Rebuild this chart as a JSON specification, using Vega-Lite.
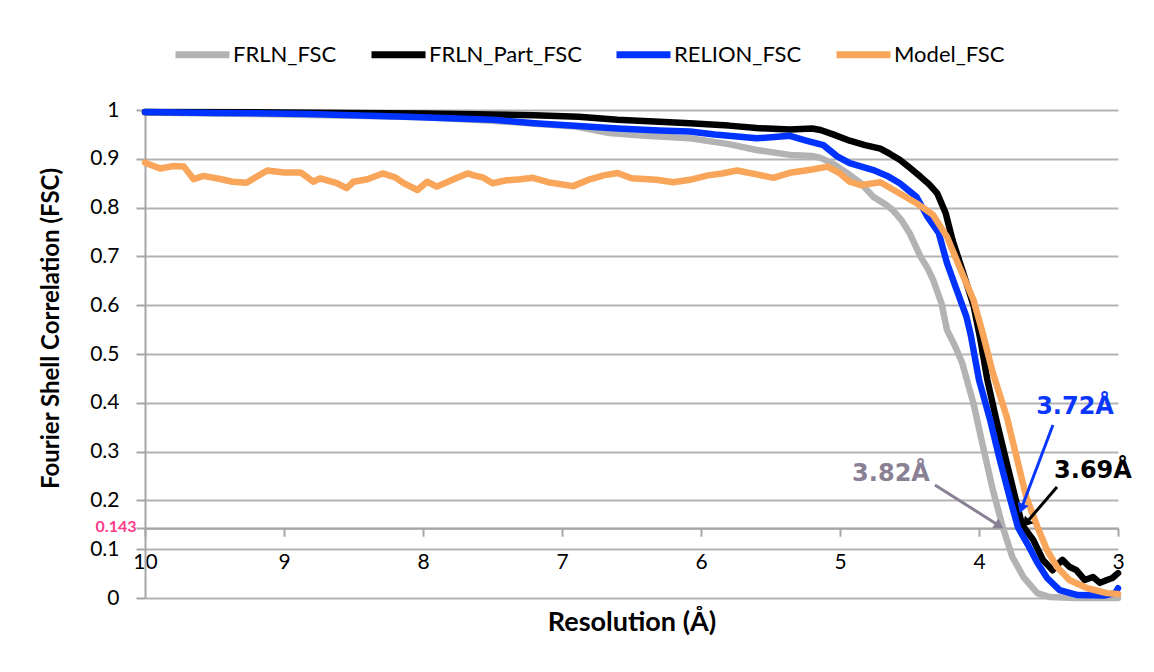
{
  "$schema": "https://vega.github.io/schema/vega-lite/v6.json",
  "width": 973,
  "height": 488,
  "autosize": {"type": "none"},
  "padding": {"left": 145, "top": 110, "right": 36, "bottom": 74},
  "background": "white",
  "config": {"view": {"stroke": null}, "font": "Lato"},
  "datasets": {
    "fsc": [
      {"s":"FRLN_FSC","res":10,"fsc":0.995},{"s":"FRLN_FSC","res":9.5,"fsc":0.993},{"s":"FRLN_FSC","res":9,"fsc":0.991},{"s":"FRLN_FSC","res":8.5,"fsc":0.988},{"s":"FRLN_FSC","res":8,"fsc":0.985},{"s":"FRLN_FSC","res":7.5,"fsc":0.978},{"s":"FRLN_FSC","res":7.2,"fsc":0.972},{"s":"FRLN_FSC","res":6.9,"fsc":0.966},{"s":"FRLN_FSC","res":6.66,"fsc":0.953},{"s":"FRLN_FSC","res":6.4,"fsc":0.947},{"s":"FRLN_FSC","res":6.08,"fsc":0.942},{"s":"FRLN_FSC","res":5.8,"fsc":0.93},{"s":"FRLN_FSC","res":5.6,"fsc":0.918},{"s":"FRLN_FSC","res":5.36,"fsc":0.908},{"s":"FRLN_FSC","res":5.2,"fsc":0.906},{"s":"FRLN_FSC","res":5.14,"fsc":0.902},{"s":"FRLN_FSC","res":5.05,"fsc":0.89},{"s":"FRLN_FSC","res":4.95,"fsc":0.871},{"s":"FRLN_FSC","res":4.85,"fsc":0.85},{"s":"FRLN_FSC","res":4.76,"fsc":0.822},{"s":"FRLN_FSC","res":4.68,"fsc":0.808},{"s":"FRLN_FSC","res":4.62,"fsc":0.795},{"s":"FRLN_FSC","res":4.56,"fsc":0.775},{"s":"FRLN_FSC","res":4.5,"fsc":0.748},{"s":"FRLN_FSC","res":4.42,"fsc":0.699},{"s":"FRLN_FSC","res":4.37,"fsc":0.676},{"s":"FRLN_FSC","res":4.33,"fsc":0.652},{"s":"FRLN_FSC","res":4.27,"fsc":0.604},{"s":"FRLN_FSC","res":4.23,"fsc":0.549},{"s":"FRLN_FSC","res":4.17,"fsc":0.515},{"s":"FRLN_FSC","res":4.12,"fsc":0.481},{"s":"FRLN_FSC","res":4.08,"fsc":0.44},{"s":"FRLN_FSC","res":4.04,"fsc":0.399},{"s":"FRLN_FSC","res":3.97,"fsc":0.309},{"s":"FRLN_FSC","res":3.9,"fsc":0.221},{"s":"FRLN_FSC","res":3.83,"fsc":0.146},{"s":"FRLN_FSC","res":3.76,"fsc":0.084},{"s":"FRLN_FSC","res":3.68,"fsc":0.043},{"s":"FRLN_FSC","res":3.58,"fsc":0.01},{"s":"FRLN_FSC","res":3.49,"fsc":0.002},{"s":"FRLN_FSC","res":3.3,"fsc":0},{"s":"FRLN_FSC","res":3,"fsc":0},

      {"s":"FRLN_Part_FSC","res":10,"fsc":0.996},{"s":"FRLN_Part_FSC","res":9,"fsc":0.995},{"s":"FRLN_Part_FSC","res":8.5,"fsc":0.994},{"s":"FRLN_Part_FSC","res":8,"fsc":0.993},{"s":"FRLN_Part_FSC","res":7.5,"fsc":0.991},{"s":"FRLN_Part_FSC","res":7.2,"fsc":0.989},{"s":"FRLN_Part_FSC","res":6.88,"fsc":0.986},{"s":"FRLN_Part_FSC","res":6.6,"fsc":0.98},{"s":"FRLN_Part_FSC","res":6.3,"fsc":0.976},{"s":"FRLN_Part_FSC","res":6.08,"fsc":0.973},{"s":"FRLN_Part_FSC","res":5.8,"fsc":0.968},{"s":"FRLN_Part_FSC","res":5.6,"fsc":0.963},{"s":"FRLN_Part_FSC","res":5.36,"fsc":0.96},{"s":"FRLN_Part_FSC","res":5.2,"fsc":0.962},{"s":"FRLN_Part_FSC","res":5.14,"fsc":0.959},{"s":"FRLN_Part_FSC","res":5.05,"fsc":0.95},{"s":"FRLN_Part_FSC","res":4.93,"fsc":0.937},{"s":"FRLN_Part_FSC","res":4.82,"fsc":0.928},{"s":"FRLN_Part_FSC","res":4.71,"fsc":0.921},{"s":"FRLN_Part_FSC","res":4.64,"fsc":0.91},{"s":"FRLN_Part_FSC","res":4.57,"fsc":0.898},{"s":"FRLN_Part_FSC","res":4.5,"fsc":0.882},{"s":"FRLN_Part_FSC","res":4.42,"fsc":0.863},{"s":"FRLN_Part_FSC","res":4.36,"fsc":0.848},{"s":"FRLN_Part_FSC","res":4.3,"fsc":0.829},{"s":"FRLN_Part_FSC","res":4.24,"fsc":0.789},{"s":"FRLN_Part_FSC","res":4.19,"fsc":0.733},{"s":"FRLN_Part_FSC","res":4.12,"fsc":0.672},{"s":"FRLN_Part_FSC","res":4.04,"fsc":0.6},{"s":"FRLN_Part_FSC","res":3.99,"fsc":0.53},{"s":"FRLN_Part_FSC","res":3.94,"fsc":0.447},{"s":"FRLN_Part_FSC","res":3.87,"fsc":0.358},{"s":"FRLN_Part_FSC","res":3.8,"fsc":0.276},{"s":"FRLN_Part_FSC","res":3.73,"fsc":0.195},{"s":"FRLN_Part_FSC","res":3.69,"fsc":0.15},{"s":"FRLN_Part_FSC","res":3.61,"fsc":0.119},{"s":"FRLN_Part_FSC","res":3.54,"fsc":0.078},{"s":"FRLN_Part_FSC","res":3.47,"fsc":0.057},{"s":"FRLN_Part_FSC","res":3.43,"fsc":0.07},{"s":"FRLN_Part_FSC","res":3.4,"fsc":0.078},{"s":"FRLN_Part_FSC","res":3.35,"fsc":0.064},{"s":"FRLN_Part_FSC","res":3.3,"fsc":0.057},{"s":"FRLN_Part_FSC","res":3.24,"fsc":0.037},{"s":"FRLN_Part_FSC","res":3.18,"fsc":0.043},{"s":"FRLN_Part_FSC","res":3.13,"fsc":0.031},{"s":"FRLN_Part_FSC","res":3.08,"fsc":0.037},{"s":"FRLN_Part_FSC","res":3.04,"fsc":0.041},{"s":"FRLN_Part_FSC","res":3,"fsc":0.051},

      {"s":"RELION_FSC","res":10,"fsc":0.996},{"s":"RELION_FSC","res":9.5,"fsc":0.994},{"s":"RELION_FSC","res":8.83,"fsc":0.992},{"s":"RELION_FSC","res":8.12,"fsc":0.986},{"s":"RELION_FSC","res":7.5,"fsc":0.98},{"s":"RELION_FSC","res":7.2,"fsc":0.973},{"s":"RELION_FSC","res":6.88,"fsc":0.967},{"s":"RELION_FSC","res":6.6,"fsc":0.962},{"s":"RELION_FSC","res":6.3,"fsc":0.958},{"s":"RELION_FSC","res":6.08,"fsc":0.956},{"s":"RELION_FSC","res":5.9,"fsc":0.95},{"s":"RELION_FSC","res":5.6,"fsc":0.942},{"s":"RELION_FSC","res":5.45,"fsc":0.945},{"s":"RELION_FSC","res":5.36,"fsc":0.947},{"s":"RELION_FSC","res":5.25,"fsc":0.938},{"s":"RELION_FSC","res":5.12,"fsc":0.928},{"s":"RELION_FSC","res":5.02,"fsc":0.905},{"s":"RELION_FSC","res":4.93,"fsc":0.891},{"s":"RELION_FSC","res":4.76,"fsc":0.877},{"s":"RELION_FSC","res":4.66,"fsc":0.865},{"s":"RELION_FSC","res":4.57,"fsc":0.85},{"s":"RELION_FSC","res":4.45,"fsc":0.822},{"s":"RELION_FSC","res":4.37,"fsc":0.781},{"s":"RELION_FSC","res":4.29,"fsc":0.748},{"s":"RELION_FSC","res":4.23,"fsc":0.686},{"s":"RELION_FSC","res":4.16,"fsc":0.631},{"s":"RELION_FSC","res":4.09,"fsc":0.576},{"s":"RELION_FSC","res":4.06,"fsc":0.54},{"s":"RELION_FSC","res":4,"fsc":0.447},{"s":"RELION_FSC","res":3.92,"fsc":0.365},{"s":"RELION_FSC","res":3.85,"fsc":0.283},{"s":"RELION_FSC","res":3.78,"fsc":0.207},{"s":"RELION_FSC","res":3.72,"fsc":0.145},{"s":"RELION_FSC","res":3.65,"fsc":0.11},{"s":"RELION_FSC","res":3.58,"fsc":0.072},{"s":"RELION_FSC","res":3.51,"fsc":0.041},{"s":"RELION_FSC","res":3.42,"fsc":0.016},{"s":"RELION_FSC","res":3.29,"fsc":0.006},{"s":"RELION_FSC","res":3.1,"fsc":0.005},{"s":"RELION_FSC","res":3.02,"fsc":0.01},{"s":"RELION_FSC","res":3,"fsc":0.02},

      {"s":"Model_FSC","res":10,"fsc":0.892},{"s":"Model_FSC","res":9.89,"fsc":0.88},{"s":"Model_FSC","res":9.8,"fsc":0.885},{"s":"Model_FSC","res":9.72,"fsc":0.884},{"s":"Model_FSC","res":9.65,"fsc":0.858},{"s":"Model_FSC","res":9.58,"fsc":0.865},{"s":"Model_FSC","res":9.45,"fsc":0.858},{"s":"Model_FSC","res":9.37,"fsc":0.853},{"s":"Model_FSC","res":9.27,"fsc":0.851},{"s":"Model_FSC","res":9.12,"fsc":0.876},{"s":"Model_FSC","res":9,"fsc":0.872},{"s":"Model_FSC","res":8.88,"fsc":0.872},{"s":"Model_FSC","res":8.79,"fsc":0.853},{"s":"Model_FSC","res":8.74,"fsc":0.86},{"s":"Model_FSC","res":8.62,"fsc":0.85},{"s":"Model_FSC","res":8.55,"fsc":0.84},{"s":"Model_FSC","res":8.5,"fsc":0.853},{"s":"Model_FSC","res":8.4,"fsc":0.858},{"s":"Model_FSC","res":8.29,"fsc":0.87},{"s":"Model_FSC","res":8.2,"fsc":0.862},{"s":"Model_FSC","res":8.14,"fsc":0.85},{"s":"Model_FSC","res":8.04,"fsc":0.836},{"s":"Model_FSC","res":7.97,"fsc":0.853},{"s":"Model_FSC","res":7.9,"fsc":0.843},{"s":"Model_FSC","res":7.78,"fsc":0.858},{"s":"Model_FSC","res":7.68,"fsc":0.87},{"s":"Model_FSC","res":7.62,"fsc":0.865},{"s":"Model_FSC","res":7.57,"fsc":0.862},{"s":"Model_FSC","res":7.5,"fsc":0.85},{"s":"Model_FSC","res":7.4,"fsc":0.856},{"s":"Model_FSC","res":7.3,"fsc":0.858},{"s":"Model_FSC","res":7.21,"fsc":0.861},{"s":"Model_FSC","res":7.1,"fsc":0.852},{"s":"Model_FSC","res":6.92,"fsc":0.844},{"s":"Model_FSC","res":6.8,"fsc":0.858},{"s":"Model_FSC","res":6.7,"fsc":0.866},{"s":"Model_FSC","res":6.6,"fsc":0.871},{"s":"Model_FSC","res":6.5,"fsc":0.86},{"s":"Model_FSC","res":6.32,"fsc":0.857},{"s":"Model_FSC","res":6.2,"fsc":0.852},{"s":"Model_FSC","res":6.08,"fsc":0.857},{"s":"Model_FSC","res":5.95,"fsc":0.866},{"s":"Model_FSC","res":5.85,"fsc":0.87},{"s":"Model_FSC","res":5.74,"fsc":0.876},{"s":"Model_FSC","res":5.6,"fsc":0.868},{"s":"Model_FSC","res":5.48,"fsc":0.861},{"s":"Model_FSC","res":5.35,"fsc":0.872},{"s":"Model_FSC","res":5.2,"fsc":0.878},{"s":"Model_FSC","res":5.09,"fsc":0.884},{"s":"Model_FSC","res":5,"fsc":0.87},{"s":"Model_FSC","res":4.93,"fsc":0.853},{"s":"Model_FSC","res":4.85,"fsc":0.846},{"s":"Model_FSC","res":4.71,"fsc":0.852},{"s":"Model_FSC","res":4.57,"fsc":0.829},{"s":"Model_FSC","res":4.45,"fsc":0.809},{"s":"Model_FSC","res":4.33,"fsc":0.785},{"s":"Model_FSC","res":4.23,"fsc":0.74},{"s":"Model_FSC","res":4.14,"fsc":0.678},{"s":"Model_FSC","res":4.04,"fsc":0.611},{"s":"Model_FSC","res":3.98,"fsc":0.55},{"s":"Model_FSC","res":3.9,"fsc":0.461},{"s":"Model_FSC","res":3.8,"fsc":0.371},{"s":"Model_FSC","res":3.73,"fsc":0.289},{"s":"Model_FSC","res":3.66,"fsc":0.207},{"s":"Model_FSC","res":3.58,"fsc":0.146},{"s":"Model_FSC","res":3.51,"fsc":0.098},{"s":"Model_FSC","res":3.44,"fsc":0.064},{"s":"Model_FSC","res":3.35,"fsc":0.037},{"s":"Model_FSC","res":3.22,"fsc":0.02},{"s":"Model_FSC","res":3.08,"fsc":0.01},{"s":"Model_FSC","res":3,"fsc":0.008}
    ],
    "ann": [
      {"label":"3.82Å","tr":4.633,"tv":0.254,"r1":4.317,"v1":0.2316,"r2":3.863,"v2":0.1496},
      {"label":"3.72Å","tr":3.309,"tv":0.391,"r1":3.468,"v1":0.3545,"r2":3.691,"v2":0.1865},
      {"label":"3.69Å","tr":3.18,"tv":0.26,"r1":3.439,"v1":0.2275,"r2":3.655,"v2":0.1557}
    ]
  },
  "layer": [
    {
      "data": {"name": "fsc"},
      "mark": {"type": "line", "strokeWidth": 6.5, "strokeCap": "round", "strokeJoin": "round"},
      "encoding": {
        "x": {"field": "res", "type": "quantitative",
          "scale": {"domain": [3, 10], "reverse": true, "nice": false, "zero": false},
          "axis": {"values": [10, 9, 8, 7, 6, 5, 4, 3], "format": "d", "offset": -69.8, "grid": false,
            "labelFlush": false, "labelOverlap": false, "domainColor": "#a6a6a6", "domainWidth": 2, "tickColor": "#a6a6a6", "tickWidth": 2, "tickSize": 8,
            "labelFontSize": 21, "labelFont": "Lato", "labelPadding": 15, "labelColor": "black",
            "title": "Resolution (Å)", "titleFont": "Lato", "titleFontSize": 27, "titleFontWeight": "bold", "titleColor": "black",
            "titleY": 94, "titleBaseline": "middle"}},
        "y": {"field": "fsc", "type": "quantitative",
          "scale": {"domain": [0, 1], "nice": false},
          "axis": {"values": [0, 0.1, 0.143, 0.2, 0.3, 0.4, 0.5, 0.6, 0.7, 0.8, 0.9, 1],
            "labelOverlap": false,
            "labelExpr": "datum.value == 0.143 ? '0.143' : format(datum.value, '.1~f')",
            "labelFontSize": {"condition": {"test": "datum.value == 0.143", "value": 16}, "value": 21},
            "labelColor": {"condition": {"test": "datum.value == 0.143", "value": "#ff3d8b"}, "value": "black"},
            "labelFontWeight": {"condition": {"test": "datum.value == 0.143", "value": "bold"}, "value": "normal"},
            "labelPadding": {"condition": {"test": "datum.value == 0.143", "value": 0}, "value": 17},
            "labelOffset": {"condition": {"test": "datum.value == 0.143", "value": -2}, "value": 0},
            "labelFont": "Lato",
            "domainColor": "#a6a6a6", "domainWidth": 2, "tickColor": "#a6a6a6", "tickWidth": 2, "tickSize": 9,
            "gridColor": "#b3b3b3", "gridWidth": 2,
            "title": "Fourier Shell Correlation (FSC)", "titleFont": "Lato", "titleFontSize": 24, "titleFontWeight": "bold", "titleColor": "black",
            "titleX": -94, "titleY": 218, "titleBaseline": "middle"}},
        "color": {"field": "s", "type": "nominal",
          "scale": {"domain": ["FRLN_FSC", "FRLN_Part_FSC", "RELION_FSC", "Model_FSC"], "range": ["#b3b3b3", "#000000", "#0033ff", "#f9a55a"]},
          "legend": {"orient": "none", "direction": "horizontal", "legendX": 27, "legendY": -86, "title": null,
            "symbolType": "stroke", "symbolSize": 2916, "symbolStrokeWidth": 7, "labelFontSize": 22, "labelFont": "Lato",
            "labelOffset": 0, "columnPadding": 20, "labelColor": "black"}}
      }
    },
    {
      "data": {"name": "ann"},
      "mark": {"type": "rule", "strokeWidth": 3},
      "encoding": {
        "x": {"field": "r1", "type": "quantitative"},
        "y": {"field": "v1", "type": "quantitative"},
        "x2": {"field": "r2"},
        "y2": {"field": "v2"},
        "stroke": {"field": "label", "type": "nominal", "scale": {"domain": ["3.82Å", "3.72Å", "3.69Å"], "range": ["#8a8094", "#0a36ff", "#000000"]}, "legend": null}
      }
    },
    {
      "data": {"name": "ann"},
      "transform": [{"filter": "datum.label == '3.82Å'"}],
      "mark": {"type": "point", "shape": "triangle", "filled": true, "size": 130, "angle": 122, "color": "#8a8094", "opacity": 1},
      "encoding": {"x": {"field": "r2", "type": "quantitative"}, "y": {"field": "v2", "type": "quantitative"}}
    },
    {
      "data": {"name": "ann"},
      "transform": [{"filter": "datum.label == '3.72Å'"}],
      "mark": {"type": "point", "shape": "triangle", "filled": true, "size": 130, "angle": 201, "color": "#0a36ff", "opacity": 1},
      "encoding": {"x": {"field": "r2", "type": "quantitative"}, "y": {"field": "v2", "type": "quantitative"}}
    },
    {
      "data": {"name": "ann"},
      "transform": [{"filter": "datum.label == '3.69Å'"}],
      "mark": {"type": "point", "shape": "triangle", "filled": true, "size": 130, "angle": 221, "color": "#000000", "opacity": 1},
      "encoding": {"x": {"field": "r2", "type": "quantitative"}, "y": {"field": "v2", "type": "quantitative"}}
    },
    {
      "data": {"name": "ann"},
      "mark": {"type": "text", "font": "DejaVu Sans", "fontWeight": "bold", "fontSize": 24, "align": "center", "baseline": "middle"},
      "encoding": {
        "x": {"field": "tr", "type": "quantitative"},
        "y": {"field": "tv", "type": "quantitative"},
        "text": {"field": "label"},
        "fill": {"field": "label", "type": "nominal", "scale": {"domain": ["3.82Å", "3.72Å", "3.69Å"], "range": ["#8a8094", "#0a36ff", "#000000"]}, "legend": null}
      }
    }
  ]
}
